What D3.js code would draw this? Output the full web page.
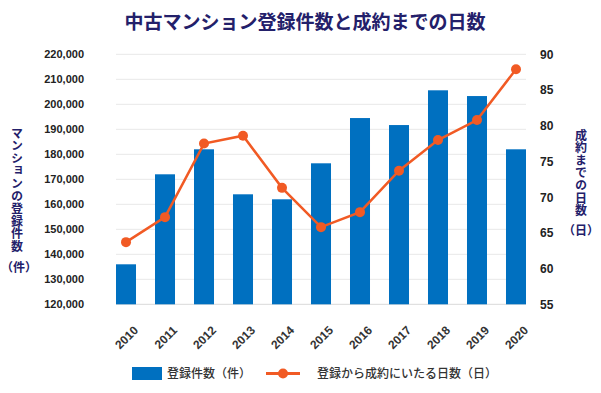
<!DOCTYPE html>
<html><head><meta charset="utf-8">
<script src="https://cdn.jsdelivr.net/npm/d3@7"></script>
<style>
html,body{margin:0;padding:0;background:#fff;}
svg{display:block;font-family:"Liberation Sans",Arial,"Noto Sans CJK JP",sans-serif;}
</style></head><body>
<svg id="c" width="601" height="393"></svg>
<script>
const years = ["2010","2011","2012","2013","2014","2015","2016","2017","2018","2019","2020"];
const listings = [136000,172000,182000,164000,162000,176400,194500,191700,205600,203300,182000];
const days = [63.7,67.2,77.5,78.6,71.3,65.8,67.9,73.7,78.0,80.8,87.9];
const leftTicks = [120000,130000,140000,150000,160000,170000,180000,190000,200000,210000,220000];
const rightTicks = [55,60,65,70,75,80,85,90];
const title = "中古マンション登録件数と成約までの日数";
const leftTitle = "マンションの登録件数";
const leftUnit = "（件）";
const rightTitle = "成約までの日数";
const rightUnit = "（日）";
const legendBar = "登録件数（件）";
const legendLine = "登録から成約にいたる日数（日）";

const jp = '"Noto Sans CJK JP","Liberation Sans",sans-serif';
const navy = "#23206a";
const blue = "#0070c0";
const orange = "#f15a24";

const svg = d3.select("#c");
const x = d3.scaleBand().domain(years).range([116,526]).paddingInner(0.487).paddingOuter(0);
const yL = d3.scaleLinear().domain([120000,220000]).range([304.3,54.3]);
const yR = d3.scaleLinear().domain([55,90]).range([304.3,54.3]);

// title
svg.append("text").attr("x",305).attr("y",29).attr("text-anchor","middle")
  .style("font-family",jp).style("font-weight","bold").style("font-size","19px").attr("fill",navy).text(title);

// gridlines
svg.append("g").selectAll("line").data(leftTicks).join("line")
  .attr("x1",116).attr("x2",526).attr("y1",d=>yL(d)).attr("y2",d=>yL(d))
  .attr("stroke",d=>d===120000?"#d9d9d9":"#e8e8e8").attr("stroke-width",1);

// left axis
const gL = svg.append("g").attr("transform","translate(116,0)")
  .call(d3.axisLeft(yL).tickValues(leftTicks).tickSize(0).tickPadding(32).tickFormat(d3.format(",")));
gL.select(".domain").remove();
gL.selectAll("text").attr("fill","#222").style("font-size","11px").style("font-weight","bold").style("font-family",'"Liberation Sans",Arial,sans-serif');

// right axis
const gR = svg.append("g").attr("transform","translate(526,0)")
  .call(d3.axisRight(yR).tickValues(rightTicks).tickSize(0).tickPadding(14));
gR.select(".domain").remove();
gR.selectAll("text").attr("fill","#222").style("font-size","12px").style("font-weight","bold").style("font-family",'"Liberation Sans",Arial,sans-serif');

// bars
svg.append("g").selectAll("rect").data(years).join("rect")
  .attr("x",d=>x(d)).attr("width",x.bandwidth())
  .attr("y",(d,i)=>yL(listings[i])).attr("height",(d,i)=>yL(120000)-yL(listings[i]))
  .attr("fill",blue);

// x labels
svg.append("g").selectAll("text").data(years).join("text")
  .attr("transform",d=>`translate(${x(d)+x.bandwidth()/2+10},${328}) rotate(-45)`)
  .attr("text-anchor","end").attr("dy","0.35em")
  .attr("fill","#333").style("font-size","12px").style("font-weight","bold").text(d=>d);

// line
const line = d3.line().x((d,i)=>x(years[i])+x.bandwidth()/2).y(d=>yR(d));
svg.append("path").datum(days).attr("d",line).attr("fill","none").attr("stroke",orange).attr("stroke-width",2.5);
svg.append("g").selectAll("circle").data(days).join("circle")
  .attr("cx",(d,i)=>x(years[i])+x.bandwidth()/2).attr("cy",d=>yR(d)).attr("r",5).attr("fill",orange);

// vertical axis titles
function vtitle(text, cx, top){
  svg.append("text").attr("x",cx).attr("y",top)
    .style("writing-mode","vertical-rl").style("letter-spacing","0.6px")
    .style("font-family",jp).style("font-weight","bold").style("font-size","12px")
    .attr("fill",navy).text(text);
}
vtitle(leftTitle, 17, 127);
svg.append("text").attr("x",19).attr("y",268).attr("dy","0.35em").attr("text-anchor","middle")
  .style("font-family",jp).style("font-weight","bold").style("font-size","12px").attr("fill",navy).text(leftUnit);
vtitle(rightTitle, 581, 129);
svg.append("text").attr("x",581).attr("y",231).attr("dy","0.35em").attr("text-anchor","middle")
  .style("font-family",jp).style("font-weight","bold").style("font-size","12px").attr("fill",navy).text(rightUnit);

// legend
const lg = svg.append("g");
lg.append("rect").attr("x",132).attr("y",367).attr("width",30).attr("height",13).attr("fill",blue);
lg.append("text").attr("x",167).attr("y",373.5).attr("dy","0.35em").style("font-family",jp).style("font-size","12px").style("font-weight","500").attr("fill","#333").text(legendBar);
lg.append("line").attr("x1",266).attr("x2",300).attr("y1",373.5).attr("y2",373.5).attr("stroke",orange).attr("stroke-width",3);
lg.append("circle").attr("cx",283).attr("cy",373.5).attr("r",5).attr("fill",orange);
lg.append("text").attr("x",317).attr("y",373.5).attr("dy","0.35em").style("font-family",jp).style("font-size","12px").style("font-weight","500").attr("fill","#333").text(legendLine);
</script>
</body></html>
